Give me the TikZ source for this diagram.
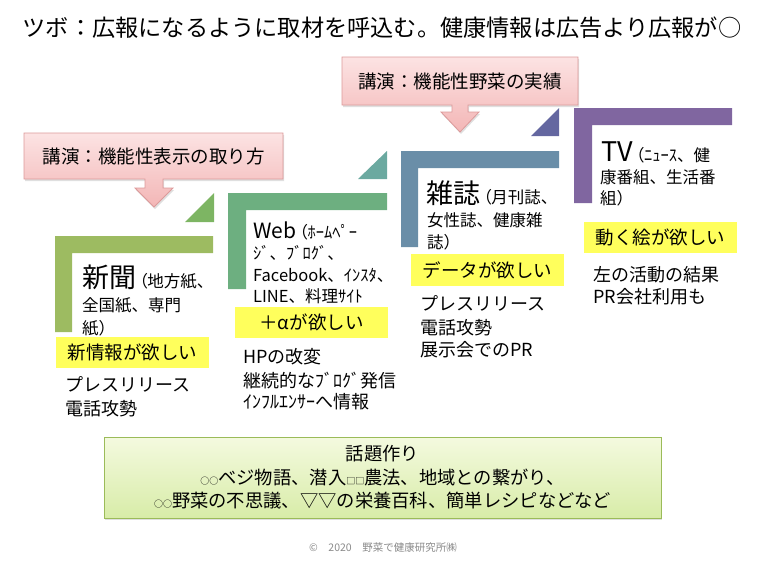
\documentclass[tikz,border=0pt]{standalone}
\usepackage{fontspec}
\setmainfont{Noto Sans CJK JP}
\newfontfamily\paltfont[RawFeature=+palt]{Noto Sans CJK JP}
\usetikzlibrary{shadows}
\definecolor{olive}{HTML}{9DBB61}
\definecolor{olivetri}{HTML}{7DB563}
\definecolor{webgreen}{HTML}{6DAF80}
\definecolor{tealtri}{HTML}{6BA9A0}
\definecolor{magblue}{HTML}{6A8EA8}
\definecolor{slatetri}{HTML}{6467A0}
\definecolor{tvpurple}{HTML}{8066A0}
\definecolor{calloutborder}{HTML}{DC9A9A}
\definecolor{callouttop}{HTML}{FCE3E3}
\definecolor{calloutbot}{HTML}{F3B6B6}
\definecolor{hlyellow}{HTML}{FFFF5C}
\definecolor{boxborder}{HTML}{9BBB59}
\definecolor{boxtop}{HTML}{F4FADF}
\definecolor{boxbot}{HTML}{D8ECA8}
\definecolor{footgray}{HTML}{8A8A8A}
\newcommand\fs[1]{\fontsize{#1}{#1}\selectfont}
\newcommand\lp{\kern3pt{\paltfont （}}
\begin{document}
\begin{tikzpicture}[x=1pt,y=-1pt,
  callout/.style={draw=calloutborder, line width=0.8pt, top color=callouttop, bottom color=calloutbot,
    drop shadow={opacity=0.25, shadow xshift=1pt, shadow yshift=-2pt}},
  calltext/.style={font=\fs{18.5}, inner sep=0pt},
  hl/.style={fill=hlyellow, minimum width=153pt, minimum height=31pt, inner sep=0pt, font=\fs{18.5}},
  line/.style={anchor=west, inner sep=0pt, font=\fs{16.5}},
  body/.style={anchor=west, inner sep=0pt, font=\fs{18}}
]
\useasboundingbox (0,0) rectangle (758,562);

% title
\node[font=\fs{23.2}, inner sep=0pt] (title) at (382,28) {ツボ：広報になるように取材を呼込む。健康情報は広告より広報が○};

% callouts
\draw[callout] (24,133) -- (283,133) -- (283,179) -- (163,179) -- (163,188) -- (173,188) -- (154,207)
  -- (135,188) -- (145,188) -- (145,179) -- (24,179) -- cycle;
\node[calltext] (call1) at (153.5,156) {講演：機能性表示の取り方};
\draw[callout] (342,57) -- (578,57) -- (578,105) -- (468,105) -- (468,112) -- (479,112) -- (460,132)
  -- (441,112) -- (452,112) -- (452,105) -- (342,105) -- cycle;
\node[calltext] (call2) at (460,81) {講演：機能性野菜の実績};

% step shapes
\fill[olive] (55,236) -- (213,236) -- (213,253) -- (72,253) -- (72,332) -- (55,332) -- cycle;
\fill[olivetri] (185,222) -- (214,193) -- (214,222) -- cycle;
\fill[webgreen] (228,193) -- (387,193) -- (387,210) -- (246,210) -- (246,289) -- (228,289) -- cycle;
\fill[tealtri] (358,179) -- (387,151) -- (387,179) -- cycle;
\fill[magblue] (401,151) -- (559,151) -- (559,168) -- (418,168) -- (418,247) -- (401,247) -- cycle;
\fill[slatetri] (531,136) -- (559,108) -- (559,136) -- cycle;
\fill[tvpurple] (574,108) -- (732,108) -- (732,125) -- (592,125) -- (592,203) -- (574,203) -- cycle;

% 新聞
\node[line] (np1) at (82,277) {{\fs{27}新聞}\lp 地方紙、};
\node[line] (np2) at (82,305) {全国紙、専門};
\node[line] (np3) at (82,328) {紙）};
\node[hl] (np4) at (132.5,352.5) {新情報が欲しい};
\node[body] (np5) at (65,384) {プレスリリース};
\node[body] (np6) at (65,409) {電話攻勢};

% Web
\node[line] (wb1) at (253,231) {{\fs{21}Web}\lp ﾎｰﾑﾍﾟｰ};
\node[line] (wb2) at (253,253) {ｼﾞ、ﾌﾞﾛｸﾞ、};
\node[line] (wb3) at (253,275) {Facebook、ｲﾝｽﾀ、};
\node[line] (wb4) at (253,296) {LINE、料理ｻｲﾄ};
\node[hl] (wb5) at (311.5,322.5) {＋αが欲しい};
\node[body] (wb6) at (243,357) {HPの改変};
\node[body] (wb7) at (243,381) {継続的なﾌﾞﾛｸﾞ発信};
\node[body] (wb8) at (243,402) {ｲﾝﾌﾙｴﾝｻｰへ情報};

% 雑誌
\node[line] (mg1) at (426,193) {{\fs{27}雑誌}\lp 月刊誌、};
\node[line] (mg2) at (427,220) {女性誌、健康雑};
\node[line] (mg3) at (427,242) {誌）};
\node[hl, minimum height=32pt] (mg4) at (487.5,270) {データが欲しい};
\node[body] (mg5) at (420,303) {プレスリリース};
\node[body] (mg6) at (420,328) {電話攻勢};
\node[body] (mg7) at (420,350) {展示会でのPR};

% TV
\node[line] (tv1) at (601,152) {{\fs{27}TV}\lp ﾆｭｰｽ、健};
\node[line] (tv2) at (600,177) {康番組、生活番};
\node[line] (tv3) at (600,198) {組）};
\node[hl] (tv4) at (660.5,237.5) {動く絵が欲しい};
\node[body] (tv5) at (593,275) {左の活動の結果};
\node[body] (tv6) at (593,297) {PR会社利用も};

% bottom box
\node[draw=boxborder, line width=0.8pt, top color=boxtop, bottom color=boxbot,
  drop shadow={opacity=0.25, shadow xshift=1pt, shadow yshift=-2pt},
  minimum width=557pt, minimum height=81pt, inner sep=0pt, align=center,
  font=\fontsize{18.3}{23.5}\selectfont] (topic) at (382.5,477.5)
  {話題作り\\{\fs{9}○○}ベジ物語、潜入{\fs{9}□□}農法、地域との繋がり、\\{\fs{9}○○}野菜の不思議、▽▽の栄養百科、簡単レシピなどなど};

% footer
\node[font=\fs{10.5}, text=footgray, inner sep=0pt] (foot) at (383,548) {©　2020　野菜で健康研究所㈱};
\end{tikzpicture}
\end{document}
